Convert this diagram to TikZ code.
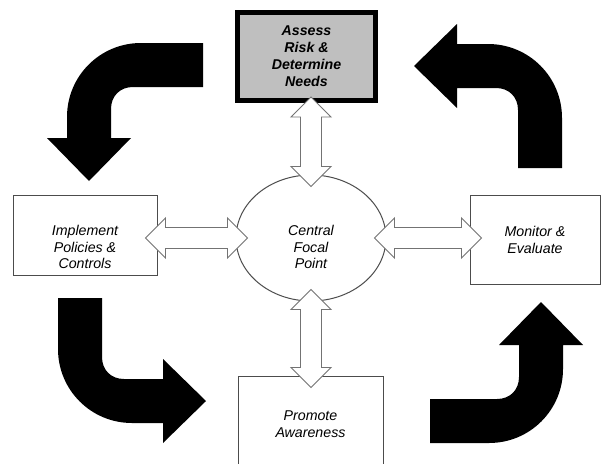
\documentclass[tikz,border=0pt]{standalone}
\usepackage{fontspec}
\setmainfont{Liberation Sans}
\usetikzlibrary{calc, shapes.geometric}

\definecolor{edgegray}{gray}{0.3}
\definecolor{hollowgray}{gray}{0.45}
\definecolor{assessfill}{gray}{0.75}

\tikzset{
	label text/.style={font=\fontsize{14.2}{16.5}\selectfont\itshape, align=center, inner sep=0pt},
	stage/.style={draw=edgegray, line width=1pt, fill=white, inner sep=0pt},
	hollow/.style={draw=hollowgray, line width=0.9pt, fill=white, line join=miter},
	bent/.style={fill=black}
}

% white double arrow between two points, overlapping both ends
\newcommand{\dblarrow}[2]{%
	\coordinate (da) at ($(#1)!-12pt!(#2)$);
	\coordinate (db) at ($(#2)!-12pt!(#1)$);
	\coordinate (qa) at ($(da)!20pt!(db)$);
	\coordinate (qb) at ($(db)!20pt!(da)$);
	\filldraw[hollow] (da) -- ($(qa)!20pt!90:(db)$) -- ($(qa)!10.5pt!90:(db)$)
	-- ($(qb)!10.5pt!-90:(da)$) -- ($(qb)!20pt!-90:(da)$) -- (db)
	-- ($(qb)!20pt!90:(da)$) -- ($(qb)!10.5pt!90:(da)$)
	-- ($(qa)!10.5pt!-90:(db)$) -- ($(qa)!20pt!-90:(db)$) -- cycle;}

% black bent arrow: #1 frame, #2 first leg, #3 second leg up to the head
\newcommand{\bentarrow}[3]{%
	\begin{scope}[#1]
		\fill[bent] (0,0) -- (0,{#2-74})
		.. controls (0,{#2-33}) and (33,#2) .. (74,#2)
		-- (#3,#2) -- (#3,{#2+20}) -- ({#3+43},{#2-22}) -- (#3,{#2-64}) -- (#3,{#2-44})
		-- (66,{#2-44}) .. controls (53,{#2-44}) and (44,{#2-53}) .. (44,{#2-66})
		-- (44,0) -- cycle;
	\end{scope}}

\begin{document}
\begin{tikzpicture}[x=1pt, y=-1pt]
	\useasboundingbox (0,0) rectangle (601,463);
	\clip (0,0) rectangle (601,463);
	
	% stages
	\node[stage, draw=black, line width=5pt, fill=assessfill, minimum width=138, minimum height=88,
	label text, font=\fontsize{14.2}{17}\selectfont\bfseries\itshape] (assess) at (306.5,56.5)
	{Assess\\Risk \&\\Determine\\Needs};
	
	\node[stage, minimum width=144, minimum height=80] (implement) at (85,235) {};
	\node[label text] (implement-text) at ([yshift=-12pt]implement.center) {Implement\\Policies \&\\Controls};
	
	\node[stage, ellipse, minimum width=150, minimum height=126] (focal) at (311,238) {};
	\node[label text] (focal-text) at ([yshift=-9pt]focal.center) {Central\\Focal\\Point};
	
	\node[stage, label text, minimum width=130, minimum height=89] (monitor) at (535,240) {Monitor \&\\Evaluate};
	\node[stage, label text, minimum width=145, minimum height=96] (promote) at (310.5,424) {Promote\\Awareness};
	
	% links to the focal point
	\coordinate (assess-foot) at ($(assess.south -| focal.north)+(0,6)$);
	\coordinate (implement-out) at (implement.east |- focal.west);
	\coordinate (monitor-in) at (monitor.west |- focal.east);
	\coordinate (promote-top) at (focal.south |- promote.north);
	\dblarrow{assess-foot}{focal.north}
	\dblarrow{implement-out}{focal.west}
	\dblarrow{focal.east}{monitor-in}
	\dblarrow{focal.south}{promote-top}
	
	% cycle arrows
	\bentarrow{shift={(203,43)}, x={(0pt,-1pt)}, y={(-1pt,0pt)}}{136}{95}
	\bentarrow{shift={(562,168)}, x={(-1pt,0pt)}, y={(0pt,1pt)}}{124}{105}
	\bentarrow{shift={(58,298)}, x={(1pt,0pt)}, y={(0pt,-1pt)}}{125}{105}
	\bentarrow{shift={(430,443)}, x={(0pt,1pt)}, y={(1pt,0pt)}}{133}{98}
	
\end{tikzpicture}
\end{document}
